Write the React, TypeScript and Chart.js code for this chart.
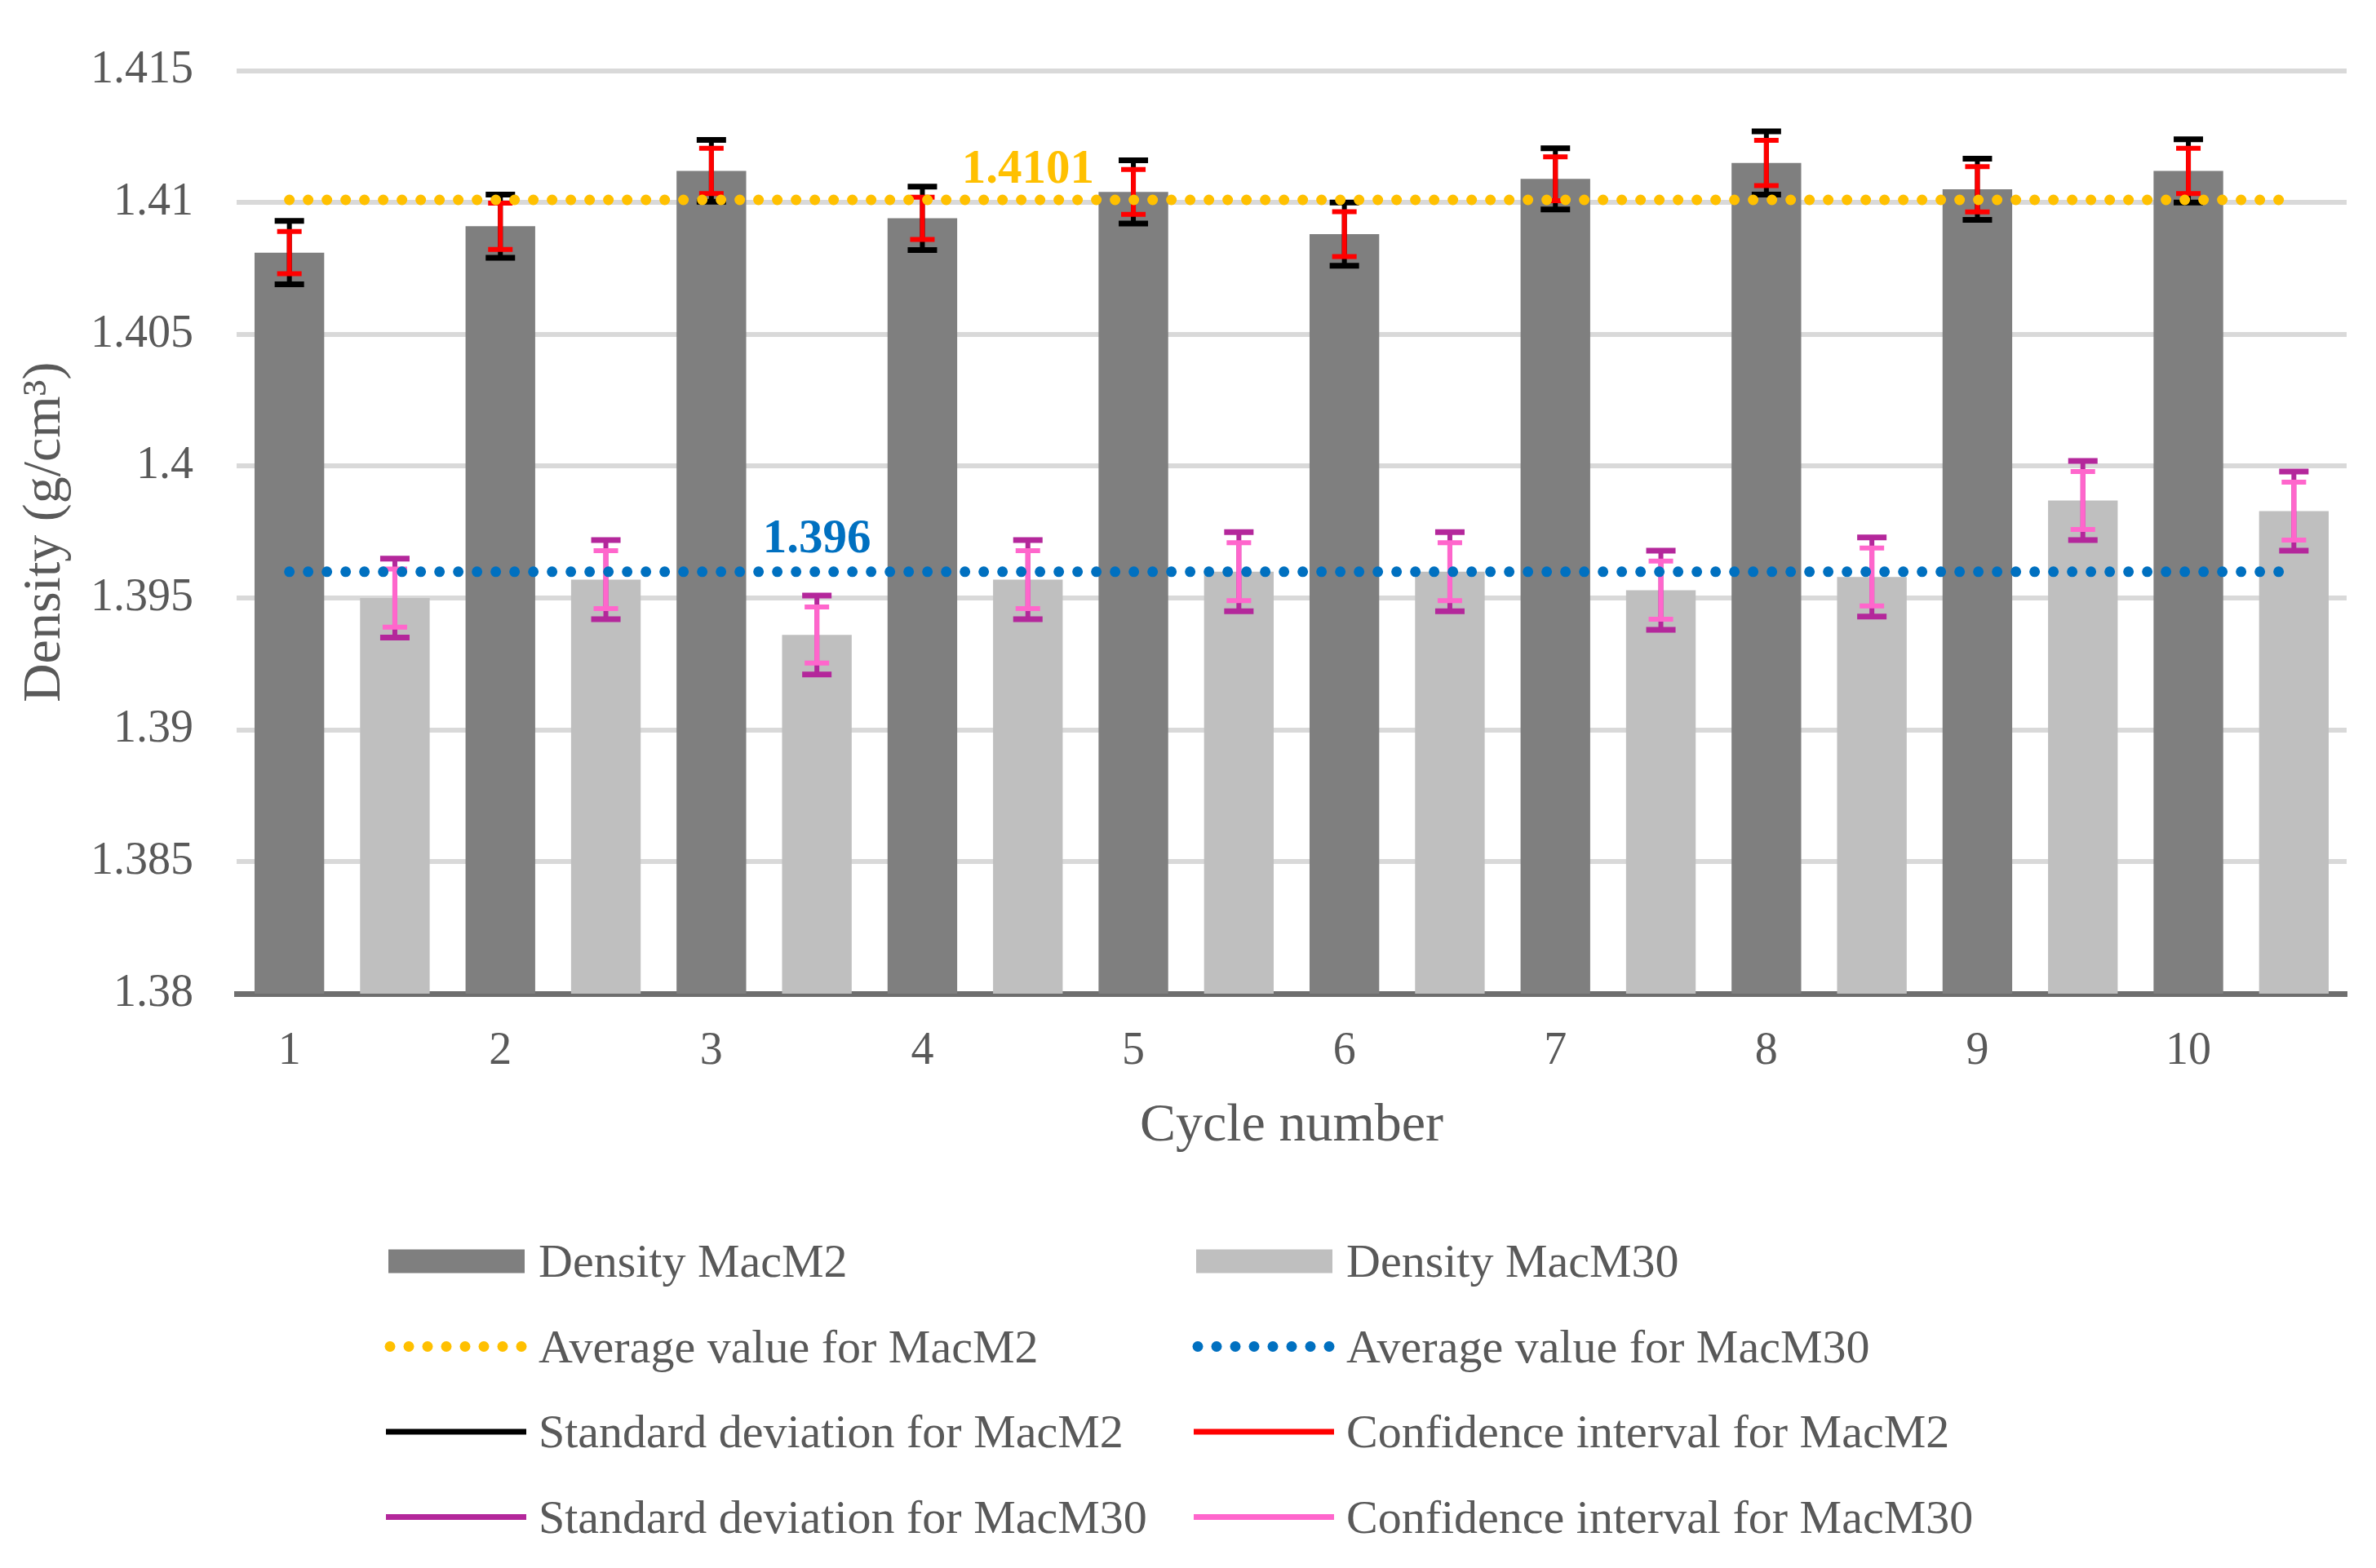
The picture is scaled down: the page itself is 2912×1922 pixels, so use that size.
import React, { useEffect, useRef } from 'react';
import { Chart, registerables } from 'chart.js';

Chart.register(...registerables);

// ---------- data ----------
const cycles = ['1', '2', '3', '4', '5', '6', '7', '8', '9', '10'];
const densityMacM2 = [1.4081, 1.4091, 1.4112, 1.4094, 1.4104, 1.4088, 1.4109, 1.4115, 1.4105, 1.4112];
const densityMacM30 = [1.395, 1.3957, 1.3936, 1.3957, 1.396, 1.396, 1.3953, 1.3958, 1.3987, 1.3983];
const sdMacM2 = [0.0012, 0.0012, 0.00117, 0.0012, 0.0012, 0.0012, 0.00116, 0.0012, 0.00116, 0.0012];
const ciMacM2 = [0.0008, 0.00088, 0.00086, 0.0008, 0.00085, 0.00085, 0.00083, 0.00086, 0.00086, 0.00086];
const sdMacM30 = [0.0015, 0.0015, 0.0015, 0.0015, 0.0015, 0.0015, 0.0015, 0.0015, 0.0015, 0.0015];
const ciMacM30 = [0.0011, 0.0011, 0.00106, 0.0011, 0.0011, 0.0011, 0.0011, 0.0011, 0.0011, 0.0011];
const averageMacM2 = 1.4101;
const averageMacM30 = 1.396;
const averageLabelMacM2 = '1.4101';
const averageLabelMacM30 = '1.396';
const yTickValues = [1.38, 1.385, 1.39, 1.395, 1.4, 1.405, 1.41, 1.415];
const yTickLabels = ['1.38', '1.385', '1.39', '1.395', '1.4', '1.405', '1.41', '1.415'];
const yAxisTitle = 'Density (g/cm\u00B3)';
const xAxisTitle = 'Cycle number';
const legendNames = [
  'Density MacM2',
  'Density MacM30',
  'Average value for MacM2',
  'Average value for MacM30',
  'Standard deviation for MacM2',
  'Confidence interval for MacM2',
  'Standard deviation for MacM30',
  'Confidence interval for MacM30',
];

// ---------- styles ----------
const C_M2 = '#7F7F7F';
const C_M30 = '#BFBFBF';
const C_AVG2 = '#FFC000';
const C_AVG30 = '#0070C0';
const C_SD2 = '#000000';
const C_CI2 = '#FF0000';
const C_SD30 = '#B4279B';
const C_CI30 = '#FF66CC';
const TEXT = '#595959';
const FONT = "'Liberation Serif', 'Times New Roman', serif";

// 20 slots: each cycle has a MacM2 slot then a MacM30 slot
const slotLabels = cycles.flatMap((c) => [c, '']);
const m2Slots = cycles.flatMap((_, i) => [densityMacM2[i], null]);
const m30Slots = cycles.flatMap((_, i) => [null, densityMacM30[i]]);
const sd2Slots = cycles.flatMap((_, i) => [sdMacM2[i], null]);
const ci2Slots = cycles.flatMap((_, i) => [ciMacM2[i], null]);
const sd30Slots = cycles.flatMap((_, i) => [null, sdMacM30[i]]);
const ci30Slots = cycles.flatMap((_, i) => [null, ciMacM30[i]]);

const errorBarPlugin = {
  id: 'errorBars',
  afterDatasetDraw(chart: any, args: any) {
    const ds = chart.data.datasets[args.index];
    if (!ds.errSD) return;
    const { ctx } = chart;
    const y = chart.scales.y;
    const drawErr = (x: number, v: number, e: number, color: string, capW: number, capT: number) => {
      const yT = y.getPixelForValue(v + e);
      const yB = y.getPixelForValue(v - e);
      ctx.strokeStyle = color;
      ctx.lineCap = 'butt';
      ctx.lineWidth = 6;
      ctx.beginPath();
      ctx.moveTo(x, yT);
      ctx.lineTo(x, yB);
      ctx.stroke();
      ctx.lineWidth = capT;
      ctx.beginPath();
      ctx.moveTo(x - capW / 2, yT);
      ctx.lineTo(x + capW / 2, yT);
      ctx.moveTo(x - capW / 2, yB);
      ctx.lineTo(x + capW / 2, yB);
      ctx.stroke();
    };
    ctx.save();
    args.meta.data.forEach((el: any, j: number) => {
      const v = ds.data[j];
      if (v == null) return;
      drawErr(el.x, v, ds.errSD[j], ds.errSDColor, 36, 7);
      drawErr(el.x, v, ds.errCI[j], ds.errCIColor, 30, 6);
    });
    ctx.restore();
  },
};

const valueLabelPlugin = {
  id: 'valueLabels',
  afterDatasetsDraw(chart: any) {
    const { ctx } = chart;
    chart.data.datasets.forEach((ds: any, i: number) => {
      if (ds.valueLabel == null) return;
      const meta = chart.getDatasetMeta(i);
      const pt = meta.data[ds.valueLabelIndex];
      if (!pt) return;
      ctx.save();
      ctx.font = `bold 59px ${FONT}`;
      ctx.fillStyle = ds.borderColor;
      ctx.textAlign = 'center';
      ctx.textBaseline = 'alphabetic';
      ctx.fillText(ds.valueLabel, pt.x, pt.y - ds.valueLabelLift);
      ctx.restore();
    });
  },
};

const legendPlugin = {
  id: 'gridLegend',
  afterDraw(chart: any) {
    const { ctx } = chart;
    const kinds = [
      { t: 'box', c: C_M2 },
      { t: 'box', c: C_M30 },
      { t: 'dot', c: C_AVG2 },
      { t: 'dot', c: C_AVG30 },
      { t: 'line', c: C_SD2 },
      { t: 'line', c: C_CI2 },
      { t: 'line', c: C_SD30 },
      { t: 'line', c: C_CI30 },
    ];
    const colX = [476, 1466];
    const rowY0 = 1546;
    const rowGap = 104.5;
    const swW = 167;
    ctx.save();
    legendNames.forEach((name, i) => {
      const col = i % 2;
      const row = Math.floor(i / 2);
      const x0 = colX[col];
      const cy = rowY0 + row * rowGap;
      const k = kinds[i];
      if (k.t === 'box') {
        ctx.fillStyle = k.c;
        ctx.fillRect(x0, cy - 14.5, swW, 29);
      } else if (k.t === 'dot') {
        ctx.fillStyle = k.c;
        for (let d = 0; d < 8; d++) {
          ctx.beginPath();
          ctx.arc(x0 + 2 + d * 23, cy, 6.5, 0, Math.PI * 2);
          ctx.fill();
        }
      } else {
        ctx.strokeStyle = k.c;
        ctx.lineWidth = 7;
        ctx.lineCap = 'butt';
        ctx.beginPath();
        ctx.moveTo(x0 - 3, cy);
        ctx.lineTo(x0 + swW + 2, cy);
        ctx.stroke();
      }
      ctx.fillStyle = TEXT;
      ctx.font = `58px ${FONT}`;
      ctx.textAlign = 'left';
      ctx.textBaseline = 'alphabetic';
      ctx.fillText(name, x0 + swW + 17, cy + 19);
    });
    ctx.restore();
  },
};

export default function App() {
  const canvasRef = useRef<HTMLCanvasElement | null>(null);

  useEffect(() => {
    if (!canvasRef.current) return;
    Chart.defaults.font.family = FONT;
    Chart.defaults.color = TEXT;

    const chart = new Chart(canvasRef.current, {
      type: 'bar',
      data: {
        labels: slotLabels,
        datasets: [
          {
            type: 'line',
            label: legendNames[2],
            data: slotLabels.map(() => averageMacM2),
            borderColor: C_AVG2,
            backgroundColor: C_AVG2,
            borderWidth: 13,
            borderDash: [0, 23],
            borderCapStyle: 'round',
            pointRadius: 0,
            fill: false,
            order: 0,
            valueLabel: averageLabelMacM2,
            valueLabelIndex: 7,
            valueLabelLift: 21,
          } as any,
          {
            type: 'line',
            label: legendNames[3],
            data: slotLabels.map(() => averageMacM30),
            borderColor: C_AVG30,
            backgroundColor: C_AVG30,
            borderWidth: 13,
            borderDash: [0, 23],
            borderCapStyle: 'round',
            pointRadius: 0,
            fill: false,
            order: 0,
            valueLabel: averageLabelMacM30,
            valueLabelIndex: 5,
            valueLabelLift: 24,
          } as any,
          {
            type: 'bar',
            label: legendNames[0],
            data: m2Slots,
            backgroundColor: C_M2,
            grouped: false,
            barPercentage: 0.66,
            categoryPercentage: 1,
            order: 1,
            errSD: sd2Slots,
            errCI: ci2Slots,
            errSDColor: C_SD2,
            errCIColor: C_CI2,
          } as any,
          {
            type: 'bar',
            label: legendNames[1],
            data: m30Slots,
            backgroundColor: C_M30,
            grouped: false,
            barPercentage: 0.66,
            categoryPercentage: 1,
            order: 1,
            errSD: sd30Slots,
            errCI: ci30Slots,
            errSDColor: C_SD30,
            errCIColor: C_CI30,
          } as any,
        ],
      },
      options: {
        animation: false,
        responsive: true,
        maintainAspectRatio: false,
        layout: { padding: { left: 0, top: 75, right: 36, bottom: 497 } },
        plugins: {
          legend: { display: false },
          tooltip: { enabled: false },
        },
        scales: {
          x: {
            offset: true,
            afterFit: (scale: any) => {
              scale.height = 207;
            },
            grid: { display: false, drawTicks: false },
            border: { display: true, color: '#6E6E6E', width: 7 },
            ticks: {
              autoSkip: false,
              maxRotation: 0,
              padding: 38,
              color: TEXT,
              font: { size: 56, family: FONT },
            },
            title: {
              display: true,
              text: xAxisTitle,
              color: TEXT,
              font: { size: 66, family: FONT },
              padding: { top: 24, bottom: 5 },
            },
          },
          y: {
            min: 1.38,
            max: 1.415,
            afterBuildTicks: (scale: any) => {
              scale.ticks = yTickValues.map((v) => ({ value: v }));
            },
            afterFit: (scale: any) => {
              scale.width = 290;
            },
            grid: { color: '#D9D9D9', lineWidth: 6, drawTicks: false },
            border: { display: false },
            ticks: {
              padding: 53,
              color: TEXT,
              font: { size: 56, family: FONT },
              callback: (_v: any, idx: number) => yTickLabels[idx],
            },
            title: {
              display: true,
              text: yAxisTitle,
              color: TEXT,
              font: { size: 66, family: FONT },
              padding: { top: 16, bottom: 0 },
            },
          },
        },
      } as any,
      plugins: [errorBarPlugin, valueLabelPlugin, legendPlugin],
    });

    return () => chart.destroy();
  }, []);

  return (
    <div style={{ position: 'absolute', left: 0, top: 0, width: 2912, height: 1922, background: '#fff' }}>
      <canvas ref={canvasRef} />
    </div>
  );
}
